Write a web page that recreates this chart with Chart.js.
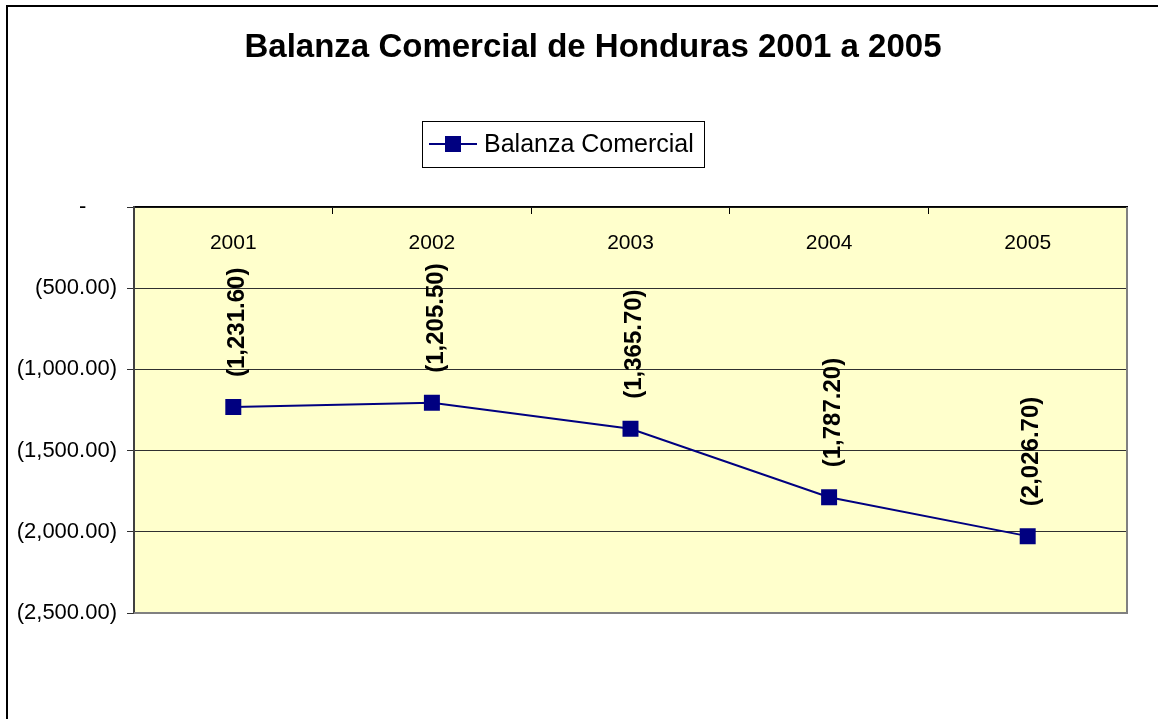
<!DOCTYPE html>
<html>
<head>
<meta charset="utf-8">
<script src="https://cdn.jsdelivr.net/npm/chart.js@4.4.0/dist/chart.umd.min.js"></script>
<style>
    html, body { margin: 0; padding: 0; background: #ffffff; }
    #wrap { width: 1158px; height: 719px; }
</style>
</head>
<body>
<div id="wrap"><canvas id="chart" width="1158" height="719"></canvas></div>
<script>
// Chart data
const years = ['2001', '2002', '2003', '2004', '2005'];
const balanza = [-1231.6, -1205.5, -1365.7, -1787.2, -2026.7];
const seriesName = 'Balanza Comercial';
const chartTitle = 'Balanza Comercial de Honduras 2001 a 2005';
const yMin = -2500;
const yMax = 0;
const yStep = 500;

const FONT = '"Liberation Sans", Arial, sans-serif';
const NAVY = '#000080';

function fmtAccounting(v) {
    const s = Math.abs(v).toLocaleString('en-US', { minimumFractionDigits: 2, maximumFractionDigits: 2 });
    return v < 0 ? '(' + s + ')' : s;
}

// Frame, plot background, title and legend (Excel look)
const excelDecor = {
    id: 'excelDecor',
    beforeDraw(chart) {
        const { ctx, chartArea: a } = chart;
        ctx.save();
        ctx.fillStyle = '#FFFFCC';
        ctx.fillRect(a.left, a.top, a.right - a.left, a.bottom - a.top);
        ctx.restore();
    },
    afterDraw(chart) {
        const { ctx, chartArea: a } = chart;
        ctx.save();

        // outer frame (left and top edges visible)
        ctx.strokeStyle = '#000';
        ctx.lineWidth = 2;
        ctx.beginPath();
        ctx.moveTo(7, chart.height);
        ctx.lineTo(7, 6);
        ctx.lineTo(chart.width, 6);
        ctx.stroke();

        // plot area right / bottom border
        ctx.strokeStyle = '#808080';
        ctx.lineWidth = 2;
        ctx.beginPath();
        ctx.moveTo(a.right, a.top);
        ctx.lineTo(a.right, a.bottom);
        ctx.lineTo(a.left, a.bottom);
        ctx.stroke();

        // category labels sit just under the top axis, inside the plot
        const xs = chart.scales.x;
        ctx.fillStyle = '#000';
        ctx.font = '21px ' + FONT;
        ctx.textAlign = 'center';
        ctx.textBaseline = 'middle';
        years.forEach((lab, i) => {
            ctx.fillText(lab, xs.getPixelForValue(i), a.top + 36);
        });

        // title
        ctx.font = 'bold 33px ' + FONT;
        ctx.fillText(chartTitle, 593, 48);

        // legend
        const lx = 422, ly = 121, lw = 282, lh = 46;
        ctx.fillStyle = '#fff';
        ctx.fillRect(lx, ly, lw, lh);
        ctx.strokeStyle = '#000';
        ctx.lineWidth = 1;
        ctx.strokeRect(lx + 0.5, ly + 0.5, lw, lh);
        const my = ly + lh / 2;
        ctx.strokeStyle = NAVY;
        ctx.lineWidth = 2;
        ctx.beginPath();
        ctx.moveTo(429, my);
        ctx.lineTo(477, my);
        ctx.stroke();
        ctx.fillStyle = NAVY;
        ctx.fillRect(453 - 8, my - 8, 16, 16);
        ctx.fillStyle = '#000';
        ctx.font = '25px ' + FONT;
        ctx.textAlign = 'left';
        ctx.fillText(seriesName, 484, my + 1);

        ctx.restore();
    }
};

// Vertical data labels above each point
const vertLabels = {
    id: 'vertLabels',
    afterDatasetsDraw(chart) {
        const { ctx } = chart;
        const meta = chart.getDatasetMeta(0);
        ctx.save();
        ctx.fillStyle = '#000';
        ctx.font = 'bold 24px ' + FONT;
        ctx.textAlign = 'left';
        ctx.textBaseline = 'middle';
        meta.data.forEach((pt, i) => {
            ctx.save();
            ctx.translate(pt.x + 4, pt.y - 30);
            ctx.rotate(-Math.PI / 2);
            ctx.fillText(fmtAccounting(balanza[i]), 0, 0);
            ctx.restore();
        });
        ctx.restore();
    }
};

new Chart(document.getElementById('chart'), {
    type: 'line',
    data: {
        labels: years,
        datasets: [{
            label: seriesName,
            data: balanza,
            borderColor: NAVY,
            backgroundColor: NAVY,
            borderWidth: 2,
            pointStyle: 'rect',
            pointRadius: 11.3,
            pointBorderWidth: 0,
            tension: 0
        }]
    },
    options: {
        responsive: false,
        animation: false,
        layout: { padding: { top: 187, left: 0, right: 31, bottom: 106 } },
        plugins: {
            legend: { display: false },
            title: { display: false },
            tooltip: { enabled: false }
        },
        scales: {
            x: {
                position: 'top',
                offset: true,
                afterFit(scale) { scale.height = 20; },
                grid: {
                    offset: true,
                    drawOnChartArea: false,
                    tickLength: -7,
                    color: '#000'
                },
                border: { color: '#000', width: 1.5 },
                ticks: { display: false }
            },
            y: {
                min: yMin,
                max: yMax,
                afterFit(scale) { scale.width = 134; },
                grid: {
                    color: '#303030',
                    tickLength: 7,
                    lineWidth: 1
                },
                border: { color: '#404040', width: 2 },
                ticks: {
                    stepSize: yStep,
                    color: '#000',
                    padding: 10,
                    font: { family: FONT, size: 22 },
                    callback: v => v === 0 ? '-     ' : fmtAccounting(v)
                }
            }
        }
    },
    plugins: [excelDecor, vertLabels]
});
</script>
</body>
</html>
